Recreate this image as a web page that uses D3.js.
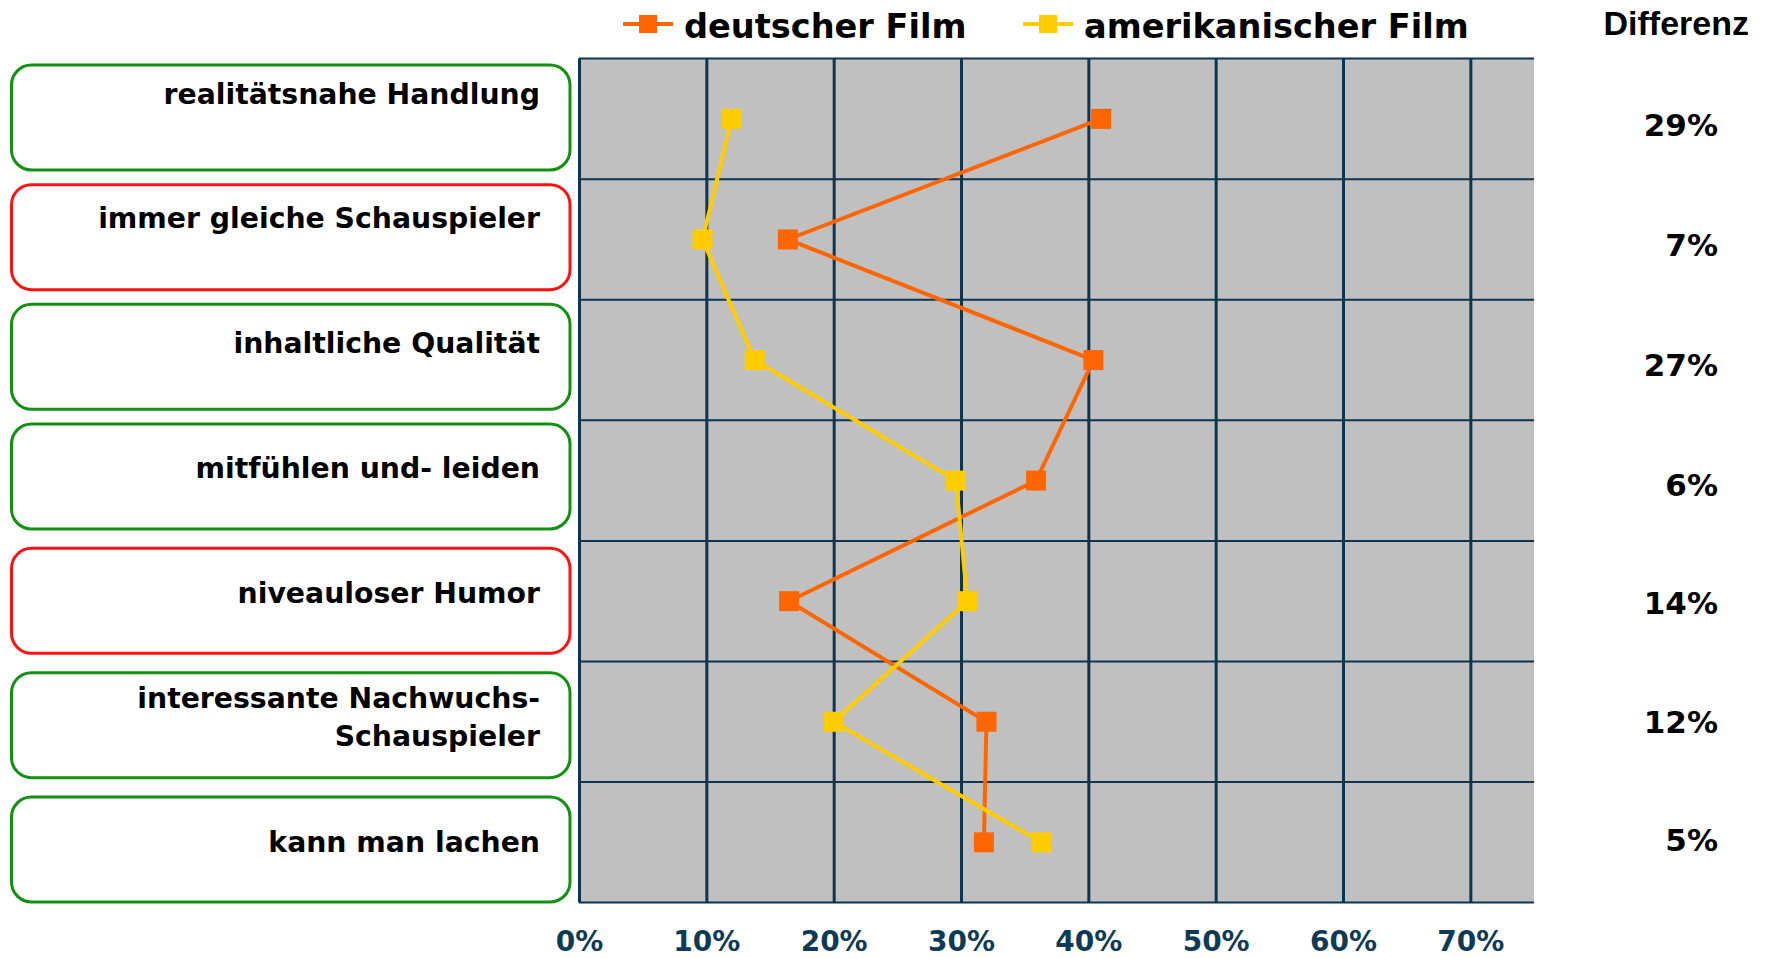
<!DOCTYPE html>
<html>
<head>
<meta charset="utf-8">
<script src="https://cdn.jsdelivr.net/npm/d3@7"></script>
<style>
  body { margin: 0; background: #fff; }
  text { font-family: "DejaVu Sans", Verdana, sans-serif; font-weight: bold; }
</style>
</head>
<body>
<div id="chart"></div>
<script>
// data (share of answers per statement)
var categories = [
    "realitätsnahe Handlung",
    "immer gleiche Schauspieler",
    "inhaltliche Qualität",
    "mitfühlen und- leiden",
    "niveauloser Humor",
    "interessante Nachwuchs-\nSchauspieler",
    "kann man lachen"
];
var ratings = ["positiv", "negativ", "positiv", "positiv", "negativ", "positiv", "positiv"];
var deutscherFilm = [0.41, 0.164, 0.404, 0.359, 0.165, 0.32, 0.318];
var amerikanischerFilm = [0.12, 0.097, 0.138, 0.296, 0.305, 0.20, 0.363];
var differenz = ["29%", "7%", "27%", "6%", "14%", "12%", "5%"];
var xTicks = [0, 0.1, 0.2, 0.3, 0.4, 0.5, 0.6, 0.7];
var seriesNames = ["deutscher Film", "amerikanischer Film"];

var width = 1767,
    height = 958,
    plot = {left: 579, right: 1534, top: 58.6, bottom: 902.6},
    gridColor = "#0d3550",
    seriesColor = d3.scaleOrdinal().domain(seriesNames).range(["#ff6600", "#ffcc00"]),
    boxColor = d3.scaleOrdinal().domain(["positiv", "negativ"]).range(["#119011", "#ff1111"]);

var svg = d3.select("#chart").append("svg")
    .attr("width", width)
    .attr("height", height);

var x = d3.scaleLinear().domain([0, 0.75]).range([plot.left, plot.right]);
var y = d3.scaleBand().domain(categories).range([plot.top, plot.bottom]);

// plot background
svg.append("rect")
    .attr("x", plot.left)
    .attr("y", plot.top)
    .attr("width", plot.right - plot.left)
    .attr("height", plot.bottom - plot.top)
    .attr("fill", "#c0c0c0");

// horizontal row lines
var rowLines = categories.map(function(c) { return y(c); }).concat([plot.bottom]);
svg.append("g").selectAll("line")
    .data(rowLines)
    .enter().append("line")
    .attr("x1", plot.left)
    .attr("x2", plot.right)
    .attr("y1", function(d) { return d; })
    .attr("y2", function(d) { return d; })
    .attr("stroke", gridColor)
    .attr("stroke-width", 2);

// x axis: tick lines run through the whole plot, labels below
var xAxis = d3.axisBottom(x)
    .tickValues(xTicks)
    .tickSize(plot.bottom - plot.top)
    .tickPadding(29)
    .tickFormat(d3.format(".0%"));

var gx = svg.append("g")
    .attr("transform", "translate(0," + plot.top + ")")
    .call(xAxis);
gx.select(".domain").remove();
gx.selectAll(".tick line")
    .attr("stroke", gridColor)
    .attr("stroke-width", 3);
gx.selectAll(".tick text")
    .attr("fill", "#0f3a56")
    .style("font-family", "'DejaVu Sans', Verdana, sans-serif")
    .style("font-weight", "bold")
    .style("font-size", "28px");

// lines + square markers
var series = [
    {name: seriesNames[0], values: deutscherFilm},
    {name: seriesNames[1], values: amerikanischerFilm}
];

var line = d3.line()
    .x(function(d) { return x(d.v); })
    .y(function(d) { return y(d.c) + y.bandwidth() / 2; });

var markerSize = 20;

series.forEach(function(s) {
    var pts = s.values.map(function(v, i) { return {c: categories[i], v: v}; });
    var g = svg.append("g");
    g.append("path")
        .datum(pts)
        .attr("d", line)
        .attr("fill", "none")
        .attr("stroke", seriesColor(s.name))
        .attr("stroke-width", 4);
    g.selectAll("rect")
        .data(pts)
        .enter().append("rect")
        .attr("x", function(d) { return x(d.v) - markerSize / 2; })
        .attr("y", function(d) { return y(d.c) + y.bandwidth() / 2 - markerSize / 2; })
        .attr("width", markerSize)
        .attr("height", markerSize)
        .attr("fill", seriesColor(s.name));
});

// label boxes on the left (spacing is not quite even in the original)
var boxTop = d3.scaleLinear().domain([0, 3, 6]).range([65, 424, 797]);
var labelBase = d3.scaleLinear().domain([0, categories.length - 1]).range([103.7, 852]);
var lineH = 38;

var boxes = svg.append("g").selectAll("g")
    .data(categories)
    .enter().append("g");

boxes.append("rect")
    .attr("x", 11.5)
    .attr("y", function(d, i) { return boxTop(i); })
    .attr("width", 558.5)
    .attr("height", 105)
    .attr("rx", 20)
    .attr("ry", 20)
    .attr("fill", "#fff")
    .attr("stroke", function(d, i) { return boxColor(ratings[i]); })
    .attr("stroke-width", 3);

boxes.append("text")
    .attr("text-anchor", "end")
    .style("font-size", "28.3px")
    .attr("fill", "#000")
    .each(function(d, i) {
        var parts = d.split("\n");
        var first = labelBase(i) - (parts.length - 1) * lineH / 2;
        d3.select(this).selectAll("tspan")
            .data(parts)
            .enter().append("tspan")
            .attr("x", 540)
            .attr("y", function(p, j) { return first + j * lineH; })
            .text(function(p) { return p; });
    });

// Differenz column
var diffBase = d3.scaleLinear().domain([0, 3, 6]).range([136, 496, 851]);

svg.append("text")
    .attr("x", 1749)
    .attr("y", 35)
    .attr("text-anchor", "end")
    .style("font-family", "'Liberation Sans', Arial, sans-serif")
    .style("font-size", "34px")
    .text("Differenz");

svg.append("g").selectAll("text")
    .data(differenz)
    .enter().append("text")
    .attr("x", 1718)
    .attr("y", function(d, i) { return diffBase(i); })
    .attr("text-anchor", "end")
    .style("font-size", "31px")
    .text(function(d) { return d; });

// legend
var legendX = [623, 1023];
var legend = svg.append("g").selectAll("g")
    .data(seriesNames)
    .enter().append("g")
    .attr("transform", function(d, i) { return "translate(" + legendX[i] + ",0)"; });

legend.append("line")
    .attr("x1", 0)
    .attr("x2", 50)
    .attr("y1", 24)
    .attr("y2", 24)
    .attr("stroke", function(d) { return seriesColor(d); })
    .attr("stroke-width", 4);
legend.append("rect")
    .attr("x", 16)
    .attr("y", 15)
    .attr("width", 18)
    .attr("height", 18)
    .attr("fill", function(d) { return seriesColor(d); });
legend.append("text")
    .attr("x", 61)
    .attr("y", 37.5)
    .style("font-size", "33.6px")
    .text(function(d) { return d; });
</script>
</body>
</html>
